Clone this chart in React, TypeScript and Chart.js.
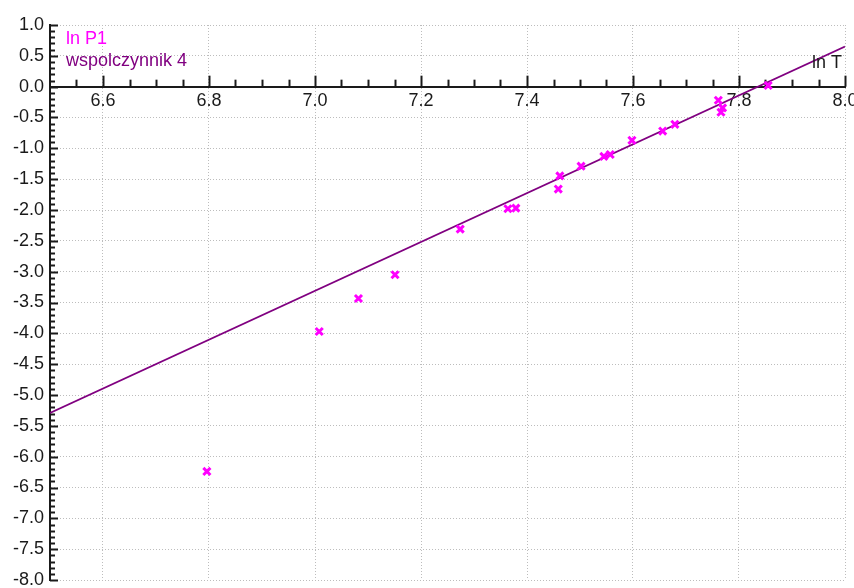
import React, { useEffect, useRef } from 'react';
import { Chart, registerables } from 'chart.js';

Chart.register(...registerables);

// ln T values (x) of the measured points
const lnT = [
  6.796, 7.008, 7.082, 7.151, 7.274, 7.364, 7.379, 7.459, 7.462, 7.502,
  7.545, 7.557, 7.598, 7.656, 7.679, 7.761, 7.769, 7.766, 7.855,
];
// ln P1 values (y) of the measured points
const lnP1 = [
  -6.24, -3.97, -3.435, -3.05, -2.31, -1.98, -1.97, -1.66, -1.447, -1.29,
  -1.13, -1.1, -0.87, -0.72, -0.61, -0.22, -0.344, -0.415, 0.02,
];
// fitted line ("wspolczynnik 4")
const fitX = [6.5, 8.0];
const fitY = [-5.29, 0.65];

// axis tick labels
const xTicks = [6.6, 6.8, 7.0, 7.2, 7.4, 7.6, 7.8, 8.0];
const yTicks = [1.0, 0.5, 0.0, -0.5, -1.0, -1.5, -2.0, -2.5, -3.0, -3.5, -4.0, -4.5, -5.0, -5.5, -6.0, -6.5, -7.0, -7.5, -8.0];
const xMinorStep = 0.05;
const yMinorStep = 0.1;

const legendLabels = ['ln P1', 'wspolczynnik 4'];
const xTitle = 'ln T';

const MAGENTA = '#ff00ff';
const PURPLE = '#800080';
const AXIS = '#1a1a1a';
const FONT = '"Liberation Sans", Arial, sans-serif';

const decorPlugin = {
  id: 'decor',
  beforeDatasetsDraw(chart: any) {
    const { ctx, chartArea } = chart;
    const xs = chart.scales.x;
    const ys = chart.scales.y;
    const axisY = ys.getPixelForValue(0);
    const axisX = chartArea.left;
    ctx.save();
    ctx.strokeStyle = AXIS;
    ctx.lineWidth = 2;
    // y ticks (inward, to the right)
    const yMin = ys.min, yMax = ys.max;
    const ny = Math.round((yMax - yMin) / yMinorStep);
    for (let i = 0; i <= ny; i++) {
      const v = yMin + i * yMinorStep;
      const major = i % 5 === 0;
      const py = Math.round(ys.getPixelForValue(v)) + 0.5;
      ctx.beginPath();
      ctx.moveTo(axisX, py);
      ctx.lineTo(axisX + (major ? 8 : 5), py);
      ctx.stroke();
    }
    // x ticks (upward)
    const xMin = xs.min, xMax = xs.max;
    const nx = Math.round((xMax - xMin) / xMinorStep);
    for (let i = 1; i <= nx; i++) {
      const v = xMin + i * xMinorStep;
      const r = v / 0.2;
      const major = Math.abs(r - Math.round(r)) < 1e-6;
      const px = Math.round(xs.getPixelForValue(v)) + 0.5;
      ctx.beginPath();
      ctx.moveTo(px, axisY);
      ctx.lineTo(px, axisY - (major ? 11 : 7));
      ctx.stroke();
    }
    ctx.restore();
  },
  afterDraw(chart: any) {
    const { ctx, chartArea } = chart;
    const ys = chart.scales.y;
    ctx.save();
    ctx.font = `18px ${FONT}`;
    ctx.textBaseline = 'alphabetic';
    ctx.textAlign = 'left';
    ctx.fillStyle = MAGENTA;
    ctx.fillText(legendLabels[0], chartArea.left + 16, 44);
    ctx.fillStyle = PURPLE;
    ctx.fillText(legendLabels[1], chartArea.left + 16, 66);
    ctx.fillStyle = AXIS;
    ctx.textAlign = 'right';
    ctx.fillText(xTitle, chartArea.right - 3, ys.getPixelForValue(0) - 19);
    ctx.restore();
  },
};

export default function App() {
  const canvasRef = useRef<HTMLCanvasElement | null>(null);

  useEffect(() => {
    if (!canvasRef.current) return;
    Chart.defaults.font.family = FONT;
    const chart = new Chart(canvasRef.current, {
      type: 'scatter',
      data: {
        datasets: [
          {
            label: legendLabels[0],
            data: lnT.map((x, i) => ({ x, y: lnP1[i] })),
            pointStyle: 'crossRot',
            pointRadius: 5,
            pointBorderWidth: 3,
            borderColor: MAGENTA,
            backgroundColor: MAGENTA,
            showLine: false,
          },
          {
            label: legendLabels[1],
            data: fitX.map((x, i) => ({ x, y: fitY[i] })),
            showLine: true,
            pointRadius: 0,
            borderColor: PURPLE,
            borderWidth: 1.8,
            backgroundColor: PURPLE,
          },
        ],
      },
      options: {
        animation: false,
        responsive: true,
        maintainAspectRatio: false,
        layout: { padding: { left: 0, top: 25, right: 9, bottom: 3 } },
        plugins: {
          legend: { display: false },
          tooltip: { enabled: false },
        },
        scales: {
          x: {
            type: 'linear',
            min: 6.5,
            max: 8.0,
            position: { y: 0 } as any,
            afterBuildTicks: (scale: any) => {
              scale.ticks = xTicks.map((v) => ({ value: v }));
            },
            afterFit: (scale: any) => {
              scale.paddingLeft = 0;
              scale.paddingRight = 0;
            },
            ticks: {
              autoSkip: false,
              maxRotation: 0,
              padding: 4,
              color: AXIS,
              font: { size: 18, family: FONT },
              callback: (v: any) => Number(v).toFixed(1),
            },
            grid: {
              drawTicks: false,
              color: '#bdbdbd',
              lineWidth: 1,
            },
            border: { display: true, color: AXIS, width: 2, dash: [1, 2] },
          },
          y: {
            type: 'linear',
            min: -8,
            max: 1,
            afterBuildTicks: (scale: any) => {
              scale.ticks = yTicks.map((v) => ({ value: v }));
            },
            afterFit: (scale: any) => {
              scale.width = 50;
              scale.paddingTop = 0;
              scale.paddingBottom = 0;
            },
            ticks: {
              autoSkip: false,
              padding: 6,
              color: AXIS,
              font: { size: 18, family: FONT },
              callback: (v: any) => Number(v).toFixed(1),
            },
            grid: {
              drawTicks: false,
              color: '#bdbdbd',
              lineWidth: 1,
            },
            border: { display: true, color: AXIS, width: 2, dash: [1, 2] },
          },
        },
      },
      plugins: [decorPlugin],
    } as any);
    return () => chart.destroy();
  }, []);

  return (
    <div style={{ position: 'fixed', left: 0, top: 0, width: 854, height: 588, background: '#fff' }}>
      <canvas ref={canvasRef} />
    </div>
  );
}
